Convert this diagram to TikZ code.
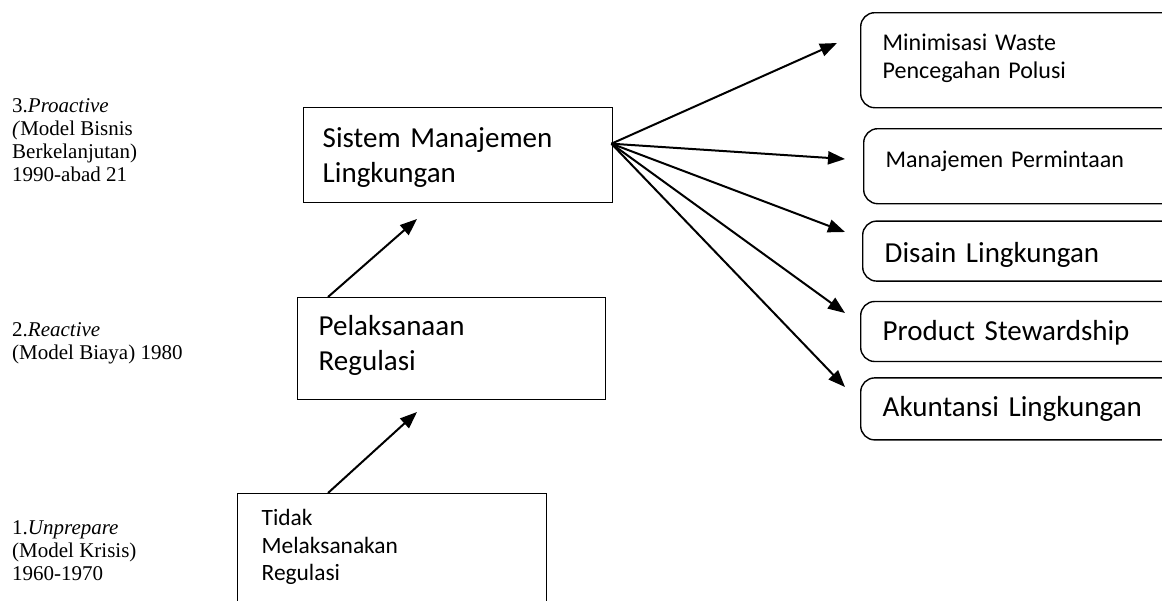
\documentclass[tikz,border=0pt]{standalone}
\usepackage{fontspec}
\setmainfont{Carlito}
\newfontfamily\timesfont{Liberation Serif}
\usetikzlibrary{positioning,arrows.meta}
\newcommand{\bigtxt}{\fontsize{29}{35}\selectfont}
\newcommand{\midtxt}{\fontsize{23.4}{27.5}\selectfont}
\newcommand{\smalltxt}{\fontsize{24}{28}\selectfont}

\begin{document}
\begin{tikzpicture}[x=1pt, y=-1pt,
    box/.style={draw, line width=1.4pt, anchor=north west, inner ysep=0pt, align=left},
    roundbox/.style={box, rounded corners=14pt, text width=286pt, inner xsep=22pt, font=\bigtxt},
    era/.style={anchor=base west, inner sep=0pt, align=left, font=\timesfont\fontsize{21}{23}\selectfont},
    arr/.style={-{Triangle[length=17pt, width=13pt]}, line width=2pt}]
    \useasboundingbox (0,0) rectangle (1162,600);
    \clip (0,0) rectangle (1162,600);
        \node[era] (pro) at (12,181) {3.\textit{Proactive}\\\textit{(}Model Bisnis\\Berkelanjutan)\\1990-abad 21};
        \node[era] (rea) at (12,359) {2.\textit{Reactive}\\(Model Biaya) 1980};
        \node[era] (unp) at (12,580) {1.\textit{Unprepare}\\(Model Krisis)\\1960-1970};
        \node[box, font=\bigtxt, text width=271pt, inner xsep=19pt, text height=40pt, text depth=55pt] (sml) at (303,107) {Sistem Manajemen\\Lingkungan};
        \node[box, font=\bigtxt, text width=266pt, inner xsep=21pt, text height=38pt, text depth=64pt] (pr) at (297,297) {Pelaksanaan\\Regulasi};
        \node[box, font=\midtxt, text width=261pt, inner xsep=24pt, text height=32pt, text depth=130pt] (tmr) at (237,493) {Tidak\\Melaksanakan\\Regulasi};
        \node[roundbox, font=\smalltxt, text height=38pt, text depth=57pt] (mw) at (860,12) {Minimisasi Waste\\Pencegahan Polusi};
        \node[roundbox, font=\smalltxt, text height=39pt, text depth=36pt] (mp) at (863,128) {Manajemen Permintaan};
        \node[roundbox, text height=41pt, text depth=19pt] (dl) [below=16pt of mp.south west, anchor=north west, xshift=-1pt] {Disain Lingkungan};
        \node[roundbox, text height=39pt, text depth=21pt] (ps) [below=19pt of dl.south west, anchor=north west, xshift=-2pt] {Product Stewardship};
        \node[roundbox, text height=39pt, text depth=23pt] (al) [below=15pt of ps.south west, anchor=north west] {Akuntansi Lingkungan};
        \coordinate (hub) at ([xshift=-2pt, yshift=11.5pt]sml.east);
        \coordinate (tmw) at (837,43);
        \coordinate (tmp) at (845,159);
        \coordinate (tdl) at (845,232);
        \coordinate (tps) at (845,313);
        \coordinate (tal) at (845,387);
        \coordinate (tsml) at (417,219);
        \coordinate (tpr) at (417,412);
        \draw[arr] ([xshift=31pt]pr.north west) -- (tsml);
        \draw[arr] ([xshift=91pt]tmr.north west) -- (tpr);
        \draw[arr] (hub) -- (tmw);
        \draw[arr] (hub) -- (tmp);
        \draw[arr] (hub) -- (tdl);
        \draw[arr] (hub) -- (tps);
        \draw[arr] (hub) -- (tal);
\end{tikzpicture}
\end{document}
